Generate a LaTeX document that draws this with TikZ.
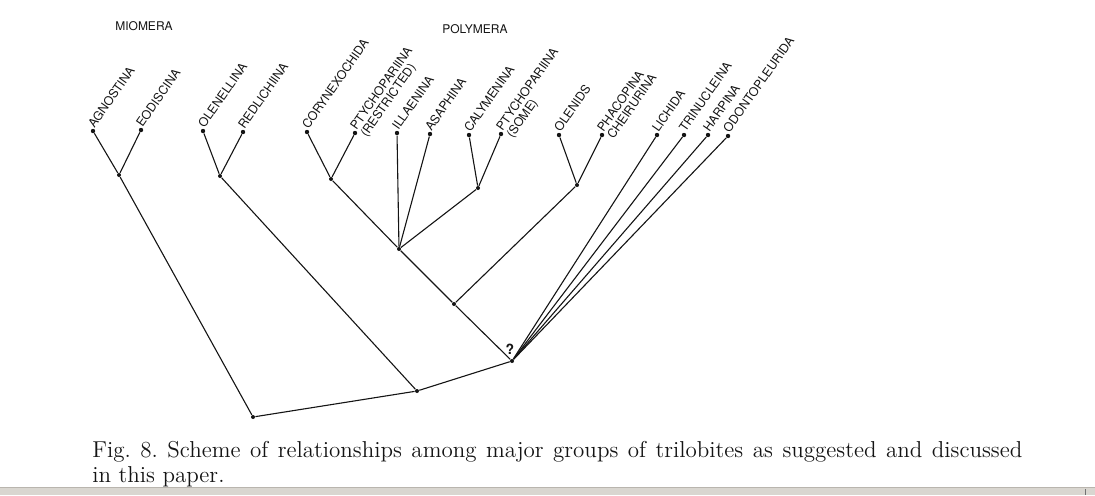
\documentclass[tikz,border=0pt]{standalone}
\usepackage{fontspec}
\newfontfamily\grpfont{TeX Gyre Heros}
\usetikzlibrary{positioning}
\definecolor{ink}{HTML}{141414}
\definecolor{barc}{HTML}{D9D6D0}
\definecolor{baredge}{HTML}{B9B5AE}
% two-line taxon name, baseline on the first line
\newcommand{\twoline}[2]{\begin{tabular}[t]{@{}l@{}}#1\\#2\end{tabular}}
\tikzset{
  tip/.style={circle,fill=ink,inner sep=0pt,minimum size=2.2pt},
  fork/.style={circle,fill=ink,inner sep=0pt,minimum size=2pt},
  branch/.style={ink,line width=0.55pt},
  taxon/.style={font=\grpfont\fontsize{6.1}{5.4}\selectfont,anchor=base west,
                rotate=55,inner sep=1.2pt,text=ink},
  grp/.style={font=\grpfont\fontsize{6}{7}\selectfont,text=ink},
  qmark/.style={font=\grpfont\bfseries\fontsize{7}{8}\selectfont,text=ink,inner sep=0pt},
  capt/.style={anchor=north west,inner sep=0pt,text width=465pt,align=justify,
               font=\fontsize{11.5}{12.4}\selectfont\frenchspacing,text=ink},
}

\begin{document}
\begin{tikzpicture}[x=0.5pt,y=-0.5pt]
  \useasboundingbox (0,0) rectangle (1095,495);
  % ---------- group headings ----------
  \node[grp] (mio)  at (144,26) {MIOMERA};
  \node[grp] (poly) at (475,29) {POLYMERA};
  % ---------- terminal taxa ----------
  \foreach \n/\x/\y/\t in {agn/93/131/AGNOSTINA, eod/141/130/EODISCINA,
      ole/203/131/OLENELLINA, red/243/132/REDLICHIINA,
      cor/307/132/CORYNEXOCHIDA, ptr/355/133/{\twoline{PTYCHOPARIINA}{(RESTRICTED)}},
      ill/397/133/ILLAENINA, asa/430/134/ASAPHINA,
      cal/469/135/CALYMENINA, pts/501/134/{\twoline{PTYCHOPARIINA}{(SOME)}},
      olen/559/135/OLENIDS, pha/602/135/{\twoline{PHACOPINA}{CHEIRURINA}},
      lic/657/135/LICHIDA, tri/684/135/TRINUCLEINA,
      har/708/135/HARPINA, odo/728/136/ODONTOPLEURIDA}{
    \node[tip] (\n) at (\x,\y) {};
    \node[taxon] (\n-l) at (\n) {\t};
  }
  % ---------- branching points ----------
  \node[fork] (fA) at (119,175) {};
  \node[fork] (fB) at (220,176) {};
  \node[fork] (fC) at (331,179) {};
  \node[fork] (fD) at (399,249) {};
  \node[fork] (fE) at (478,188) {};
  \node[fork] (fF) at (577,185) {};
  \node[fork] (fG) at (454,304) {};
  \node[fork] (fQ) at (512,361) {};
  \node[fork] (fH) at (417,391) {};
  \node[fork] (root) at (253,417) {};
  \node[qmark] (qm) at (510,349) {?};
  % ---------- branches ----------
  \foreach \a/\b in {fA/agn, fA/eod, fB/ole, fB/red, fC/cor, fC/ptr,
      fD/ill, fD/asa, fE/cal, fE/pts, fF/olen, fF/pha,
      fC/fD, fD/fE, fD/fG, fF/fG, fG/fQ,
      fQ/lic, fQ/tri, fQ/har, fQ/odo,
      fA/root, fB/fH, fQ/fH, fH/root}
    \draw[branch] (\a) -- (\b);
  % ---------- caption ----------
  \node[capt] (cap) at (92,441) {Fig.~8. Scheme of relationships among major groups
    of trilobites as suggested and discussed\linebreak in this paper.};
  % ---------- bottom bar ----------
  \fill[barc] (0,487) rectangle (1095,495);
  \draw[baredge,line width=0.5pt] (0,487) -- (1095,487);
  \draw[ink!60,line width=0.5pt] (1085,489) -- (1085,495);
\end{tikzpicture}
\end{document}
